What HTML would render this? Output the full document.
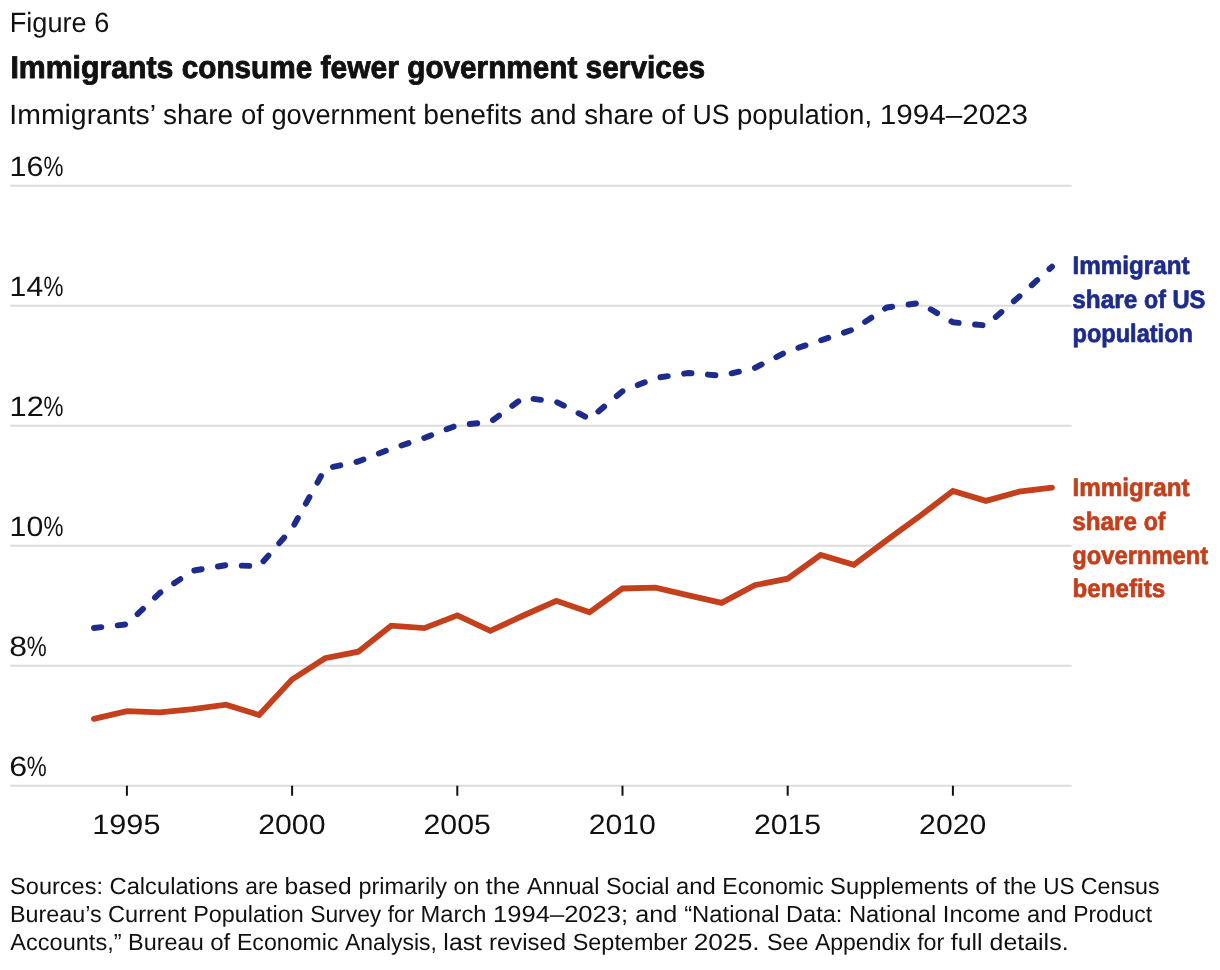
<!DOCTYPE html>
<html lang="en">
<head>
<meta charset="utf-8">
<title>Figure 6 - Immigrants consume fewer government services</title>
<style>
html,body{margin:0;padding:0;background:#fff;}
body{width:1220px;height:970px;overflow:hidden;}
svg{display:block;}
text{font-family:"Liberation Sans",sans-serif;fill:#111111;text-rendering:geometricPrecision;}
.b{font-weight:bold;}
</style>
</head>
<body>
<svg width="1220" height="970" viewBox="0 0 1220 970">
<rect width="1220" height="970" fill="#ffffff"/>
<text transform="translate(9.73,32.00) scale(0.9737,1)" font-size="27.9">Figure 6</text>
<text class="b" y="78.00" font-size="31.5" stroke="#111111" stroke-width="0.9" stroke-linejoin="round"><tspan x="10.38" textLength="171.38" lengthAdjust="spacingAndGlyphs">Immigrants </tspan><tspan x="181.76" textLength="138.74" lengthAdjust="spacingAndGlyphs">consume </tspan><tspan x="320.50" textLength="86.76" lengthAdjust="spacingAndGlyphs">fewer </tspan><tspan x="407.26" textLength="178.34" lengthAdjust="spacingAndGlyphs">government </tspan><tspan x="585.61" textLength="119.51" lengthAdjust="spacingAndGlyphs">services</tspan></text>
<text y="124.00" font-size="27.8"><tspan x="9.34" textLength="153.61" lengthAdjust="spacingAndGlyphs">Immigrants’ </tspan><tspan x="162.96" textLength="77.94" lengthAdjust="spacingAndGlyphs">share </tspan><tspan x="240.90" textLength="30.51" lengthAdjust="spacingAndGlyphs">of </tspan><tspan x="271.41" textLength="151.75" lengthAdjust="spacingAndGlyphs">government </tspan><tspan x="423.16" textLength="106.93" lengthAdjust="spacingAndGlyphs">benefits </tspan><tspan x="530.09" textLength="54.08" lengthAdjust="spacingAndGlyphs">and </tspan><tspan x="584.17" textLength="77.21" lengthAdjust="spacingAndGlyphs">share </tspan><tspan x="661.38" textLength="31.12" lengthAdjust="spacingAndGlyphs">of </tspan><tspan x="692.50" textLength="44.51" lengthAdjust="spacingAndGlyphs">US </tspan><tspan x="737.01" textLength="142.77" lengthAdjust="spacingAndGlyphs">population, </tspan><tspan x="879.78" textLength="148.32" lengthAdjust="spacingAndGlyphs">1994–2023</tspan></text>
<line x1="10.2" x2="1071.7" y1="185.7" y2="185.7" stroke="#dcdcdc" stroke-width="2"/>
<line x1="10.2" x2="1071.7" y1="305.7" y2="305.7" stroke="#dcdcdc" stroke-width="2"/>
<line x1="10.2" x2="1071.7" y1="425.7" y2="425.7" stroke="#dcdcdc" stroke-width="2"/>
<line x1="10.2" x2="1071.7" y1="545.7" y2="545.7" stroke="#dcdcdc" stroke-width="2"/>
<line x1="10.2" x2="1071.7" y1="665.7" y2="665.7" stroke="#dcdcdc" stroke-width="2"/>
<line x1="10.2" x2="1071.7" y1="785.7" y2="785.7" stroke="#dcdcdc" stroke-width="2"/>
<text y="175.90" font-size="28.0"><tspan x="9.62" textLength="33.87" lengthAdjust="spacingAndGlyphs">16</tspan><tspan x="43.41" textLength="19.95" lengthAdjust="spacingAndGlyphs">%</tspan></text>
<text y="295.90" font-size="28.0"><tspan x="9.64" textLength="33.54" lengthAdjust="spacingAndGlyphs">14</tspan><tspan x="43.41" textLength="19.95" lengthAdjust="spacingAndGlyphs">%</tspan></text>
<text y="415.90" font-size="28.0"><tspan x="9.59" textLength="34.22" lengthAdjust="spacingAndGlyphs">12</tspan><tspan x="43.41" textLength="19.95" lengthAdjust="spacingAndGlyphs">%</tspan></text>
<text y="535.90" font-size="28.0"><tspan x="9.63" textLength="33.70" lengthAdjust="spacingAndGlyphs">10</tspan><tspan x="43.41" textLength="19.95" lengthAdjust="spacingAndGlyphs">%</tspan></text>
<text y="655.90" font-size="28.0"><tspan x="9.36" textLength="17.75" lengthAdjust="spacingAndGlyphs">8</tspan><tspan x="26.71" textLength="19.95" lengthAdjust="spacingAndGlyphs">%</tspan></text>
<text y="775.90" font-size="28.0"><tspan x="9.19" textLength="17.94" lengthAdjust="spacingAndGlyphs">6</tspan><tspan x="26.71" textLength="19.95" lengthAdjust="spacingAndGlyphs">%</tspan></text>
<line x1="126.9" x2="126.9" y1="785.7" y2="795.7" stroke="#111111" stroke-width="2"/>
<text transform="translate(92.30,834.00) scale(1.0934,1)" font-size="28.0">1995</text>
<line x1="292.1" x2="292.1" y1="785.7" y2="795.7" stroke="#111111" stroke-width="2"/>
<text transform="translate(258.29,834.00) scale(1.0781,1)" font-size="28.0">2000</text>
<line x1="457.3" x2="457.3" y1="785.7" y2="795.7" stroke="#111111" stroke-width="2"/>
<text transform="translate(423.49,834.00) scale(1.0806,1)" font-size="28.0">2005</text>
<line x1="622.5" x2="622.5" y1="785.7" y2="795.7" stroke="#111111" stroke-width="2"/>
<text transform="translate(588.69,834.00) scale(1.0781,1)" font-size="28.0">2010</text>
<line x1="787.7" x2="787.7" y1="785.7" y2="795.7" stroke="#111111" stroke-width="2"/>
<text transform="translate(753.89,834.00) scale(1.0806,1)" font-size="28.0">2015</text>
<line x1="952.9" x2="952.9" y1="785.7" y2="795.7" stroke="#111111" stroke-width="2"/>
<text transform="translate(919.09,834.00) scale(1.0781,1)" font-size="28.0">2020</text>
<polyline points="93.9,718.8 126.9,711.2 159.9,712.3 193.0,709.2 226.0,704.7 259.1,715.0 292.1,679.4 325.1,658.2 358.2,651.7 391.2,625.7 424.3,628.1 457.3,615.4 490.3,630.8 523.4,615.5 556.4,600.8 589.5,612.3 622.5,588.5 655.5,587.7 688.6,595.3 721.6,602.9 754.7,585.2 787.7,578.7 820.7,554.9 853.8,564.8 886.8,540.2 919.9,516.0 952.9,491.0 985.9,500.9 1019.0,491.7 1052.0,487.6" fill="none" stroke="#c43f1c" stroke-width="5.8" stroke-linecap="round" stroke-linejoin="miter"/>
<polyline points="93.9,628.0 126.9,624.3 159.9,592.8 193.0,570.7 226.0,565.1 259.1,566.2 292.1,528.5 325.1,468.6 358.2,461.5 391.2,448.8 424.3,437.9 457.3,425.2 490.3,422.0 523.4,397.6 556.4,401.9 589.5,418.9 622.5,391.2 655.5,378.0 688.6,373.0 721.6,375.7 754.7,368.0 787.7,351.3 820.7,340.4 853.8,329.3 886.8,307.5 919.9,303.0 952.9,322.3 985.9,325.5 1019.0,296.8 1052.0,266.7" fill="none" stroke="#1d2b8c" stroke-width="5.9" stroke-linecap="round" stroke-linejoin="round" stroke-dasharray="7.5 16.48"/>
<text class="b" transform="translate(1072.47,274.00) scale(0.9584,1)" font-size="25.3" style="fill:#1d2b8c" stroke="#1d2b8c" stroke-width="0.7" stroke-linejoin="round">Immigrant</text>
<text class="b" y="308.00" font-size="25.3" style="fill:#1d2b8c" stroke="#1d2b8c" stroke-width="0.7" stroke-linejoin="round"><tspan x="1072.30" textLength="71.83" lengthAdjust="spacingAndGlyphs">share </tspan><tspan x="1144.12" textLength="28.30" lengthAdjust="spacingAndGlyphs">of </tspan><tspan x="1172.42" textLength="33.06" lengthAdjust="spacingAndGlyphs">US</tspan></text>
<text class="b" transform="translate(1072.52,342.00) scale(0.9316,1)" font-size="25.3" style="fill:#1d2b8c" stroke="#1d2b8c" stroke-width="0.7" stroke-linejoin="round">population</text>
<text class="b" transform="translate(1072.47,496.00) scale(0.9584,1)" font-size="25.3" style="fill:#c43f1c" stroke="#c43f1c" stroke-width="0.7" stroke-linejoin="round">Immigrant</text>
<text class="b" y="530.00" font-size="25.3" style="fill:#c43f1c" stroke="#c43f1c" stroke-width="0.7" stroke-linejoin="round"><tspan x="1072.30" textLength="71.42" lengthAdjust="spacingAndGlyphs">share </tspan><tspan x="1143.73" textLength="21.80" lengthAdjust="spacingAndGlyphs">of</tspan></text>
<text class="b" transform="translate(1072.20,564.00) scale(0.9397,1)" font-size="25.3" style="fill:#c43f1c" stroke="#c43f1c" stroke-width="0.7" stroke-linejoin="round">government</text>
<text class="b" transform="translate(1072.48,597.00) scale(0.9558,1)" font-size="25.3" style="fill:#c43f1c" stroke="#c43f1c" stroke-width="0.7" stroke-linejoin="round">benefits</text>
<text y="894.00" font-size="23.4"><tspan x="10.14" textLength="99.42" lengthAdjust="spacingAndGlyphs">Sources: </tspan><tspan x="109.56" textLength="135.72" lengthAdjust="spacingAndGlyphs">Calculations </tspan><tspan x="245.29" textLength="39.31" lengthAdjust="spacingAndGlyphs">are </tspan><tspan x="284.60" textLength="73.88" lengthAdjust="spacingAndGlyphs">based </tspan><tspan x="358.48" textLength="95.10" lengthAdjust="spacingAndGlyphs">primarily </tspan><tspan x="453.57" textLength="32.26" lengthAdjust="spacingAndGlyphs">on </tspan><tspan x="485.83" textLength="41.17" lengthAdjust="spacingAndGlyphs">the </tspan><tspan x="527.00" textLength="78.95" lengthAdjust="spacingAndGlyphs">Annual </tspan><tspan x="605.95" textLength="70.10" lengthAdjust="spacingAndGlyphs">Social </tspan><tspan x="676.05" textLength="46.30" lengthAdjust="spacingAndGlyphs">and </tspan><tspan x="722.35" textLength="107.78" lengthAdjust="spacingAndGlyphs">Economic </tspan><tspan x="830.13" textLength="145.05" lengthAdjust="spacingAndGlyphs">Supplements </tspan><tspan x="975.18" textLength="28.26" lengthAdjust="spacingAndGlyphs">of </tspan><tspan x="1003.44" textLength="39.87" lengthAdjust="spacingAndGlyphs">the </tspan><tspan x="1043.31" textLength="37.53" lengthAdjust="spacingAndGlyphs">US </tspan><tspan x="1080.84" textLength="78.74" lengthAdjust="spacingAndGlyphs">Census</tspan></text>
<text y="922.00" font-size="23.4"><tspan x="10.04" textLength="97.99" lengthAdjust="spacingAndGlyphs">Bureau’s </tspan><tspan x="108.02" textLength="85.11" lengthAdjust="spacingAndGlyphs">Current </tspan><tspan x="193.13" textLength="117.04" lengthAdjust="spacingAndGlyphs">Population </tspan><tspan x="310.17" textLength="77.49" lengthAdjust="spacingAndGlyphs">Survey </tspan><tspan x="387.66" textLength="32.94" lengthAdjust="spacingAndGlyphs">for </tspan><tspan x="420.60" textLength="72.48" lengthAdjust="spacingAndGlyphs">March </tspan><tspan x="493.08" textLength="142.11" lengthAdjust="spacingAndGlyphs">1994–2023; </tspan><tspan x="635.19" textLength="48.97" lengthAdjust="spacingAndGlyphs">and </tspan><tspan x="684.17" textLength="101.95" lengthAdjust="spacingAndGlyphs">“National </tspan><tspan x="786.12" textLength="62.78" lengthAdjust="spacingAndGlyphs">Data: </tspan><tspan x="848.90" textLength="93.97" lengthAdjust="spacingAndGlyphs">National </tspan><tspan x="942.87" textLength="84.18" lengthAdjust="spacingAndGlyphs">Income </tspan><tspan x="1027.05" textLength="46.11" lengthAdjust="spacingAndGlyphs">and </tspan><tspan x="1073.17" textLength="78.98" lengthAdjust="spacingAndGlyphs">Product</tspan></text>
<text y="950.00" font-size="23.4"><tspan x="10.30" textLength="117.82" lengthAdjust="spacingAndGlyphs">Accounts,” </tspan><tspan x="128.12" textLength="82.11" lengthAdjust="spacingAndGlyphs">Bureau </tspan><tspan x="210.24" textLength="26.71" lengthAdjust="spacingAndGlyphs">of </tspan><tspan x="236.95" textLength="108.05" lengthAdjust="spacingAndGlyphs">Economic </tspan><tspan x="345.00" textLength="98.39" lengthAdjust="spacingAndGlyphs">Analysis, </tspan><tspan x="443.39" textLength="45.56" lengthAdjust="spacingAndGlyphs">last </tspan><tspan x="488.94" textLength="83.80" lengthAdjust="spacingAndGlyphs">revised </tspan><tspan x="572.75" textLength="120.94" lengthAdjust="spacingAndGlyphs">September </tspan><tspan x="693.68" textLength="73.27" lengthAdjust="spacingAndGlyphs">2025. </tspan><tspan x="766.95" textLength="48.05" lengthAdjust="spacingAndGlyphs">See </tspan><tspan x="815.00" textLength="102.15" lengthAdjust="spacingAndGlyphs">Appendix </tspan><tspan x="917.15" textLength="33.68" lengthAdjust="spacingAndGlyphs">for </tspan><tspan x="950.83" textLength="38.67" lengthAdjust="spacingAndGlyphs">full </tspan><tspan x="989.50" textLength="79.08" lengthAdjust="spacingAndGlyphs">details.</tspan></text>
</svg>
</body>
</html>
